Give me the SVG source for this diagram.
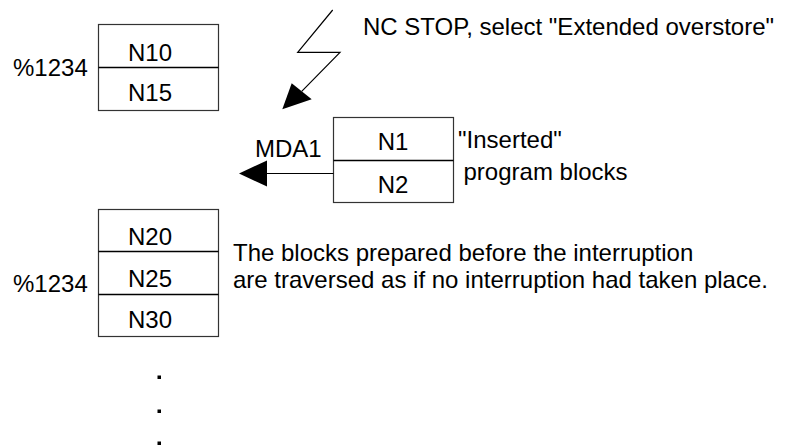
<svg xmlns="http://www.w3.org/2000/svg" width="785" height="446" viewBox="0 0 785 446">
<style>
text{font-family:"Liberation Sans",Arial,sans-serif;font-size:24px;fill:#000}
.c{text-anchor:middle}
.box{fill:#fff;stroke:#333;stroke-width:1.2}
.div{stroke:#000;stroke-width:1.5}
.ln{stroke:#000;stroke-width:1.2;fill:none}
</style>
<g id="prog1">
<text x="13" y="76">%1234</text>
<rect class="box" x="98.5" y="24.5" width="120" height="86"/>
<line class="div" x1="98.5" y1="67.5" x2="218.5" y2="67.5"/>
<text class="c" x="150" y="60.5">N10</text>
<text class="c" x="150" y="100.5">N15</text>
</g>
<g id="mda">
<rect class="box" x="333.5" y="117.5" width="120" height="85"/>
<line class="div" x1="333.5" y1="160.5" x2="453.5" y2="160.5"/>
<text class="c" x="393" y="150">N1</text>
<text class="c" x="393" y="193">N2</text>
<text x="458" y="148">"Inserted"</text>
<text x="463.5" y="180">program blocks</text>
</g>
<g id="prog2">
<text x="13" y="292">%1234</text>
<rect class="box" x="98.5" y="209.5" width="120" height="127"/>
<line class="div" x1="98.5" y1="251.5" x2="218.5" y2="251.5"/>
<line class="div" x1="98.5" y1="294.5" x2="218.5" y2="294.5"/>
<text class="c" x="150" y="245">N20</text>
<text class="c" x="150" y="287">N25</text>
<text class="c" x="150" y="328">N30</text>
</g>
<g id="labels">
<text x="363" y="35">NC STOP, select "Extended overstore"</text>
<text x="233" y="261">The blocks prepared before the interruption</text>
<text x="233" y="288">are traversed as if no interruption had taken place.</text>
<text x="255" y="157">MDA1</text>
</g>
<g id="connectors">
<polyline class="ln" points="332.7,10 297.7,52.3 340,52.3 301.7,91.3"/>
<polygon points="282.3,109.3 291.7,83.3 311.7,99.3" fill="#000"/>
<line class="ln" x1="333.5" y1="173.5" x2="265" y2="173.5"/>
<polygon points="239,173.5 267,160.5 267,186.5" fill="#000"/>
</g>
<g id="dots" fill="#000">
<rect x="157.5" y="375.5" width="3.5" height="3.5"/>
<rect x="157.5" y="409.5" width="3.5" height="3.5"/>
<rect x="157.5" y="441.5" width="3.5" height="3.5"/>
</g>
</svg>
